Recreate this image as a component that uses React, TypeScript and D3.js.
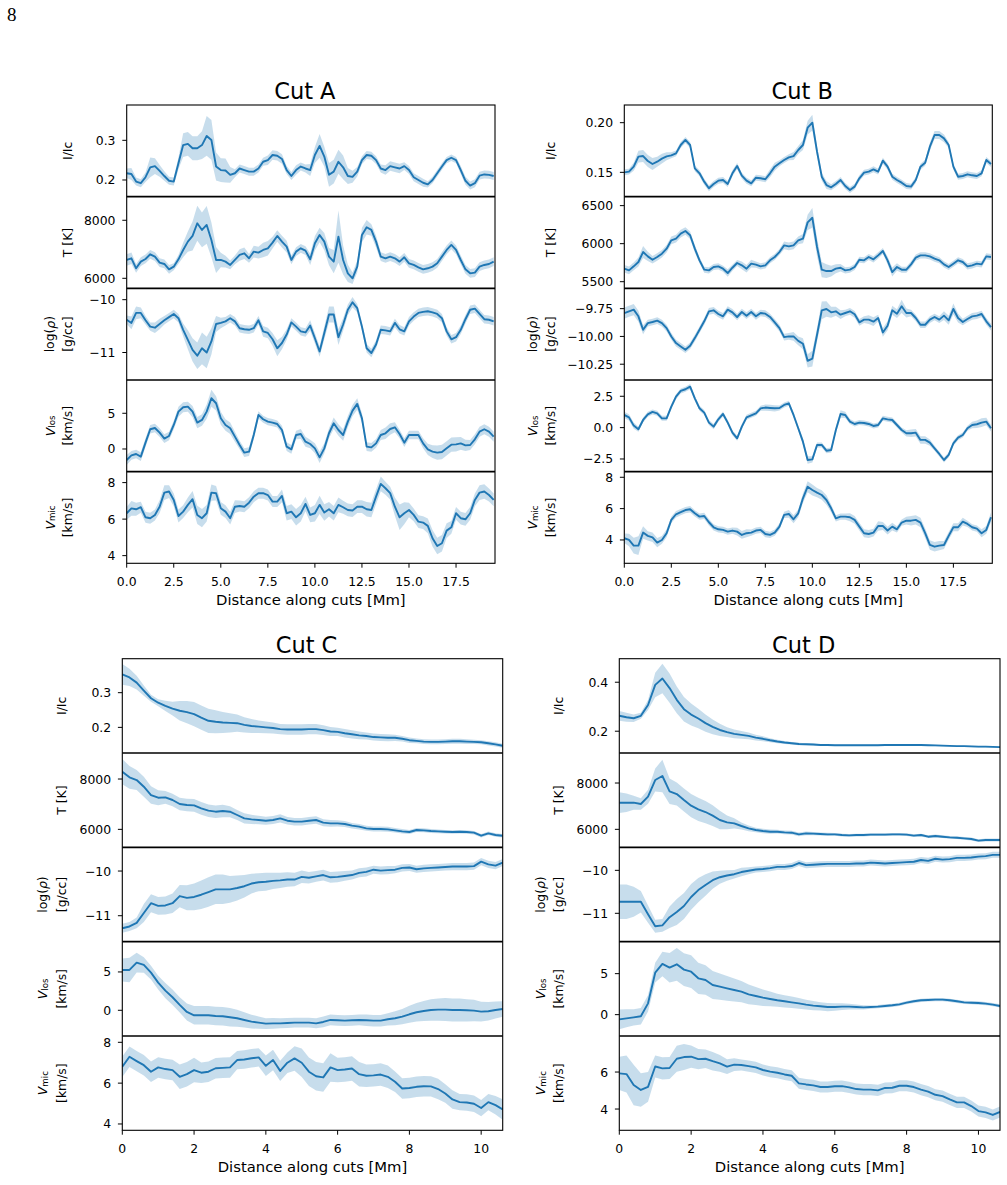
import React from 'react';
import * as d3 from 'd3';

// Sample positions along each cut [Mm]
const distAB = d3.range(79).map((i) => i * 0.25);
const distCD = d3.range(54).map((i) => i * 0.2);

// ---------------- Cut A ----------------
const cutA_ic = [0.217, 0.215, 0.196, 0.192, 0.207, 0.232, 0.235, 0.223, 0.21, 0.198,
  0.196, 0.242, 0.288, 0.291, 0.28, 0.28, 0.288, 0.311, 0.301, 0.234,
  0.225, 0.224, 0.213, 0.217, 0.229, 0.225, 0.221, 0.221, 0.229, 0.246,
  0.25, 0.263, 0.261, 0.253, 0.225, 0.21, 0.225, 0.234, 0.229, 0.225,
  0.263, 0.286, 0.259, 0.213, 0.221, 0.246, 0.232, 0.21, 0.208, 0.221,
  0.25, 0.263, 0.261, 0.25, 0.229, 0.225, 0.235, 0.232, 0.229, 0.235,
  0.225, 0.207, 0.2, 0.193, 0.189, 0.2, 0.217, 0.234, 0.25, 0.256,
  0.25, 0.225, 0.198, 0.186, 0.192, 0.211, 0.214, 0.213, 0.21];
const cutA_icErr = [0.012, 0.015, 0.01, 0.01, 0.012, 0.025, 0.02, 0.015, 0.012, 0.01,
  0.01, 0.015, 0.03, 0.03, 0.03, 0.03, 0.035, 0.05, 0.05, 0.035,
  0.03, 0.03, 0.02, 0.01, 0.01, 0.01, 0.01, 0.01, 0.01, 0.01,
  0.012, 0.012, 0.012, 0.012, 0.01, 0.01, 0.012, 0.01, 0.01, 0.015,
  0.02, 0.03, 0.025, 0.03, 0.03, 0.03, 0.03, 0.02, 0.015, 0.012,
  0.01, 0.01, 0.01, 0.01, 0.01, 0.012, 0.012, 0.012, 0.012, 0.01,
  0.01, 0.01, 0.01, 0.01, 0.008, 0.008, 0.008, 0.008, 0.008, 0.008,
  0.008, 0.01, 0.01, 0.01, 0.01, 0.01, 0.01, 0.01, 0.01];
const cutA_T = [6632, 6690, 6345, 6575, 6667, 6828, 6747, 6540, 6494, 6310,
  6402, 6655, 6977, 7264, 7460, 7897, 7667, 7839, 7322, 6632,
  6632, 6575, 6460, 6632, 6805, 6862, 6690, 6920, 6885, 6977,
  7034, 7230, 7460, 7264, 7092, 6632, 6920, 7034, 6954, 6655,
  7207, 7494, 7264, 6747, 6575, 7437, 6632, 6172, 6000, 6402,
  7494, 7759, 7667, 7264, 6747, 6690, 6747, 6690, 6575, 6724,
  6517, 6460, 6379, 6310, 6345, 6402, 6517, 6747, 6977, 7149,
  6977, 6632, 6310, 6172, 6195, 6402, 6460, 6494, 6575];
const cutA_TErr = [200, 200, 150, 150, 150, 150, 150, 150, 150, 150,
  120, 150, 250, 350, 500, 600, 600, 650, 600, 450,
  250, 200, 150, 150, 200, 200, 150, 200, 200, 250,
  250, 200, 200, 200, 200, 150, 150, 150, 150, 200,
  250, 250, 300, 300, 400, 900, 500, 300, 200, 200,
  250, 250, 200, 200, 150, 150, 150, 150, 150, 150,
  150, 150, 150, 150, 150, 150, 150, 150, 150, 150,
  150, 150, 150, 150, 150, 150, 150, 150, 150];
const cutA_rho = [-10.38, -10.44, -10.25, -10.25, -10.39, -10.51, -10.53, -10.46, -10.39, -10.33,
  -10.27, -10.35, -10.57, -10.76, -10.95, -11.06, -10.92, -11.0, -10.79, -10.46,
  -10.44, -10.41, -10.35, -10.41, -10.54, -10.56, -10.57, -10.54, -10.39, -10.6,
  -10.63, -10.75, -10.92, -10.82, -10.66, -10.43, -10.51, -10.6, -10.62, -10.49,
  -10.73, -10.98, -10.63, -10.28, -10.28, -10.71, -10.47, -10.19, -10.05, -10.16,
  -10.51, -10.92, -11.01, -10.85, -10.57, -10.58, -10.6, -10.44, -10.56, -10.6,
  -10.41, -10.32, -10.25, -10.23, -10.22, -10.24, -10.27, -10.35, -10.6, -10.75,
  -10.71, -10.57, -10.37, -10.19, -10.17, -10.27, -10.37, -10.38, -10.41];
const cutA_rhoErr = [0.08, 0.12, 0.12, 0.1, 0.08, 0.08, 0.1, 0.1, 0.08, 0.08,
  0.08, 0.08, 0.12, 0.18, 0.22, 0.25, 0.3, 0.3, 0.25, 0.15,
  0.1, 0.08, 0.08, 0.08, 0.08, 0.08, 0.08, 0.08, 0.08, 0.1,
  0.1, 0.12, 0.15, 0.12, 0.1, 0.08, 0.08, 0.08, 0.08, 0.1,
  0.1, 0.1, 0.12, 0.15, 0.15, 0.15, 0.12, 0.1, 0.1, 0.08,
  0.08, 0.08, 0.08, 0.08, 0.08, 0.08, 0.08, 0.08, 0.08, 0.08,
  0.08, 0.08, 0.08, 0.08, 0.08, 0.08, 0.08, 0.08, 0.08, 0.08,
  0.08, 0.08, 0.08, 0.08, 0.08, 0.08, 0.08, 0.08, 0.08];
const cutA_vlos = [-1.54, -0.89, -0.7, -1.07, 0.89, 2.76, 2.94, 2.29, 1.45, 1.82,
  3.36, 5.23, 5.84, 5.93, 5.23, 3.69, 4.07, 5.23, 7.1, 6.4,
  4.3, 3.36, 2.9, 1.73, 0.56, -0.51, -0.37, 1.96, 4.77, 4.16,
  3.83, 3.69, 3.5, 2.66, 0.33, -0.05, 1.96, 2.1, 1.03, 0.7,
  0.09, -1.17, 0.09, 2.2, 3.6, 2.66, 1.96, 3.83, 5.37, 6.31,
  4.3, 0.33, 0.23, 0.79, 1.96, 2.2, 2.8, 3.04, 2.1, 0.89,
  1.96, 1.96, 1.96, 0.79, -0.05, -0.37, -0.51, -0.42, 0.09, 0.61,
  0.65, 0.79, 0.51, 0.56, 1.36, 2.43, 2.76, 2.43, 1.73];
const cutA_vlosErr = [0.7, 0.6, 0.6, 0.6, 0.6, 0.6, 0.6, 0.6, 0.6, 0.6,
  0.6, 0.7, 0.7, 0.7, 0.8, 0.8, 0.8, 1.0, 1.2, 1.0,
  0.9, 0.8, 0.8, 0.7, 0.6, 0.6, 0.6, 0.6, 0.5, 0.5,
  0.5, 0.5, 0.5, 0.6, 0.6, 0.6, 0.6, 0.7, 0.7, 0.6,
  0.7, 0.8, 0.7, 0.7, 0.8, 0.8, 0.8, 0.8, 0.8, 0.8,
  0.7, 0.6, 0.6, 0.6, 0.7, 0.8, 0.8, 0.7, 0.6, 0.6,
  0.6, 0.6, 0.6, 0.7, 0.8, 0.9, 1.0, 1.0, 1.0, 1.0,
  1.0, 0.9, 0.8, 0.7, 0.7, 0.7, 0.7, 0.7, 0.7];
const cutA_vmic = [6.32, 6.59, 6.54, 6.65, 6.1, 6.05, 6.23, 6.68, 7.45, 7.51,
  7.05, 6.17, 6.41, 6.78, 7.09, 6.23, 6.05, 6.32, 7.45, 7.42,
  6.59, 6.41, 6.05, 6.68, 6.72, 6.68, 6.9, 7.23, 7.42, 7.42,
  7.32, 6.96, 6.96, 7.27, 6.32, 6.41, 6.1, 6.32, 6.83, 6.23,
  6.32, 6.78, 6.36, 6.54, 6.32, 6.78, 6.65, 6.5, 6.47, 6.68,
  6.68, 6.54, 6.5, 7.23, 7.93, 7.69, 7.42, 6.68, 6.1, 6.32,
  6.5, 6.23, 5.86, 5.81, 5.63, 4.95, 4.53, 4.68, 5.37, 5.55,
  6.32, 6.05, 5.99, 6.32, 7.05, 7.45, 7.51, 7.32, 7.05];
const cutA_vmicErr = [0.35, 0.4, 0.35, 0.3, 0.3, 0.3, 0.3, 0.35, 0.4, 0.35,
  0.35, 0.35, 0.35, 0.4, 0.45, 0.5, 0.5, 0.45, 0.45, 0.4,
  0.35, 0.35, 0.35, 0.35, 0.3, 0.3, 0.3, 0.3, 0.3, 0.3,
  0.3, 0.3, 0.3, 0.35, 0.4, 0.4, 0.45, 0.45, 0.4, 0.4,
  0.45, 0.5, 0.45, 0.4, 0.4, 0.4, 0.35, 0.35, 0.35, 0.35,
  0.35, 0.4, 0.4, 0.4, 0.4, 0.35, 0.35, 0.5, 0.7, 0.6,
  0.4, 0.35, 0.35, 0.35, 0.4, 0.45, 0.45, 0.45, 0.4, 0.35,
  0.35, 0.35, 0.35, 0.35, 0.35, 0.4, 0.4, 0.35, 0.35];

// ---------------- Cut B ----------------
const cutB_ic = [0.15, 0.1507, 0.1557, 0.1658, 0.1664, 0.1614, 0.1584, 0.1607, 0.1638, 0.1661,
  0.1671, 0.1691, 0.1775, 0.1826, 0.1775, 0.154, 0.149, 0.1406, 0.1339, 0.1383,
  0.1416, 0.1423, 0.1383, 0.149, 0.1564, 0.1466, 0.1416, 0.1389, 0.1446, 0.144,
  0.143, 0.149, 0.1557, 0.1591, 0.1624, 0.1651, 0.1664, 0.1725, 0.1775, 0.195,
  0.2, 0.1708, 0.1456, 0.1372, 0.1349, 0.1383, 0.1423, 0.1362, 0.1322, 0.1356,
  0.144, 0.1497, 0.1507, 0.153, 0.1507, 0.1617, 0.1557, 0.1456, 0.1423, 0.1396,
  0.1362, 0.1356, 0.1423, 0.1557, 0.1597, 0.1758, 0.1876, 0.1876, 0.1842, 0.1775,
  0.1557, 0.1456, 0.1463, 0.148, 0.147, 0.1463, 0.149, 0.1624, 0.1584];
const cutB_icErr = [0.003, 0.003, 0.004, 0.006, 0.006, 0.006, 0.006, 0.005, 0.005, 0.004,
  0.003, 0.003, 0.003, 0.003, 0.003, 0.003, 0.003, 0.003, 0.003, 0.003,
  0.003, 0.003, 0.003, 0.003, 0.003, 0.003, 0.003, 0.003, 0.003, 0.003,
  0.003, 0.004, 0.004, 0.003, 0.003, 0.003, 0.004, 0.004, 0.005, 0.007,
  0.008, 0.005, 0.004, 0.004, 0.003, 0.003, 0.003, 0.003, 0.003, 0.003,
  0.003, 0.003, 0.003, 0.003, 0.003, 0.003, 0.003, 0.003, 0.003, 0.003,
  0.003, 0.003, 0.003, 0.003, 0.003, 0.004, 0.004, 0.004, 0.004, 0.003,
  0.003, 0.003, 0.003, 0.003, 0.003, 0.003, 0.003, 0.003, 0.003];
const cutB_T = [5671, 5649, 5702, 5759, 5890, 5833, 5789, 5825, 5868, 5934,
  6044, 6066, 6132, 6167, 6110, 5934, 5781, 5658, 5649, 5693,
  5702, 5671, 5614, 5684, 5746, 5715, 5671, 5737, 5724, 5702,
  5715, 5781, 5825, 5890, 5978, 5965, 5978, 6044, 6066, 6280,
  6340, 5956, 5658, 5640, 5640, 5671, 5684, 5649, 5658, 5693,
  5789, 5781, 5825, 5794, 5846, 5904, 5781, 5627, 5693, 5658,
  5658, 5728, 5816, 5846, 5846, 5833, 5803, 5781, 5728, 5693,
  5737, 5781, 5759, 5702, 5715, 5737, 5728, 5833, 5825];
const cutB_TErr = [50, 50, 50, 60, 80, 60, 50, 50, 50, 50,
  50, 50, 50, 50, 50, 50, 40, 40, 40, 40,
  40, 40, 50, 40, 40, 50, 50, 50, 40, 40,
  40, 40, 40, 40, 50, 50, 50, 50, 60, 100,
  130, 120, 100, 90, 70, 60, 50, 40, 40, 40,
  40, 40, 40, 40, 40, 40, 50, 60, 50, 40,
  40, 40, 40, 40, 40, 40, 40, 40, 40, 40,
  40, 40, 40, 40, 40, 40, 40, 40, 40];
const cutB_rho = [-9.79, -9.774, -9.759, -9.819, -9.94, -9.88, -9.87, -9.858, -9.88, -9.925,
  -10.0, -10.06, -10.09, -10.12, -10.084, -10.015, -9.94, -9.864, -9.774, -9.765,
  -9.798, -9.819, -9.759, -9.783, -9.825, -9.78, -9.813, -9.78, -9.819, -9.789,
  -9.795, -9.825, -9.873, -9.925, -10.006, -10.0, -10.0, -10.04, -10.066, -10.22,
  -10.2, -9.985, -9.765, -9.753, -9.783, -9.774, -9.804, -9.789, -9.774, -9.801,
  -9.873, -9.849, -9.849, -9.867, -9.834, -9.964, -9.904, -9.765, -9.795, -9.729,
  -9.789, -9.789, -9.834, -9.895, -9.895, -9.849, -9.825, -9.849, -9.813, -9.855,
  -9.753, -9.834, -9.87, -9.843, -9.819, -9.813, -9.798, -9.864, -9.916];
const cutB_rhoErr = [0.05, 0.05, 0.05, 0.05, 0.04, 0.03, 0.03, 0.03, 0.03, 0.03,
  0.03, 0.03, 0.03, 0.03, 0.03, 0.03, 0.03, 0.03, 0.03, 0.03,
  0.03, 0.03, 0.03, 0.03, 0.03, 0.03, 0.03, 0.03, 0.03, 0.03,
  0.03, 0.03, 0.03, 0.03, 0.03, 0.03, 0.04, 0.04, 0.05, 0.06,
  0.07, 0.06, 0.08, 0.07, 0.05, 0.04, 0.04, 0.03, 0.03, 0.03,
  0.03, 0.03, 0.04, 0.04, 0.03, 0.04, 0.04, 0.04, 0.04, 0.06,
  0.04, 0.03, 0.03, 0.03, 0.03, 0.03, 0.03, 0.03, 0.04, 0.04,
  0.05, 0.04, 0.03, 0.03, 0.03, 0.03, 0.03, 0.03, 0.03];
const cutB_vlos = [1.01, 0.82, 0.16, -0.13, 0.61, 1.06, 1.25, 1.14, 0.74, 0.74,
  1.68, 2.47, 2.93, 3.06, 3.27, 2.34, 1.54, 1.2, 0.4, 0.08,
  0.66, 1.09, 0.4, -0.4, -0.85, 0.08, 0.82, 0.98, 1.14, 1.54,
  1.6, 1.57, 1.54, 1.57, 1.81, 1.94, 1.01, -0.05, -1.12, -2.58,
  -2.53, -1.38, -1.38, -1.84, -1.78, -0.19, 1.09, 1.01, 0.48, 0.29,
  0.4, 0.37, 0.29, 0.13, 0.21, 0.74, 0.66, 0.61, 0.21, -0.19,
  -0.45, -0.45, -0.4, -0.98, -0.98, -1.2, -1.65, -2.1, -2.58, -2.18,
  -1.25, -0.8, -0.59, -0.05, 0.21, 0.27, 0.4, 0.48, -0.05];
const cutB_vlosErr = [0.25, 0.25, 0.25, 0.2, 0.2, 0.2, 0.2, 0.2, 0.2, 0.2,
  0.2, 0.2, 0.2, 0.2, 0.2, 0.2, 0.2, 0.2, 0.2, 0.2,
  0.2, 0.2, 0.2, 0.2, 0.2, 0.2, 0.2, 0.2, 0.2, 0.2,
  0.25, 0.25, 0.25, 0.2, 0.2, 0.2, 0.2, 0.2, 0.25, 0.3,
  0.25, 0.2, 0.2, 0.2, 0.2, 0.25, 0.3, 0.25, 0.2, 0.2,
  0.2, 0.2, 0.2, 0.2, 0.2, 0.2, 0.2, 0.2, 0.2, 0.2,
  0.25, 0.3, 0.3, 0.3, 0.3, 0.25, 0.2, 0.2, 0.2, 0.2,
  0.2, 0.2, 0.2, 0.2, 0.25, 0.3, 0.35, 0.3, 0.25];
const cutB_vmic = [4.11, 4.0, 3.64, 3.64, 4.47, 4.26, 4.17, 3.83, 4.0, 4.43,
  5.28, 5.64, 5.77, 5.91, 5.96, 5.7, 5.49, 5.53, 5.13, 4.81,
  4.68, 4.64, 4.53, 4.6, 4.53, 4.32, 4.43, 4.47, 4.6, 4.64,
  4.38, 4.32, 4.47, 4.85, 5.6, 5.66, 5.32, 5.7, 6.66, 7.4,
  7.19, 7.02, 6.87, 6.55, 6.02, 5.38, 5.49, 5.49, 5.45, 5.28,
  4.85, 4.43, 4.38, 4.47, 4.89, 4.89, 4.6, 4.85, 4.68, 5.11,
  5.23, 5.23, 5.28, 5.11, 4.43, 3.68, 3.57, 3.64, 3.68, 4.26,
  4.81, 4.81, 5.17, 5.02, 4.81, 4.72, 4.43, 4.64, 5.45];
const cutB_vmicErr = [0.3, 0.4, 0.5, 0.6, 0.4, 0.3, 0.3, 0.3, 0.25, 0.25,
  0.2, 0.2, 0.2, 0.2, 0.2, 0.2, 0.2, 0.2, 0.2, 0.2,
  0.2, 0.2, 0.2, 0.2, 0.25, 0.25, 0.25, 0.2, 0.2, 0.2,
  0.2, 0.2, 0.2, 0.2, 0.2, 0.25, 0.25, 0.25, 0.3, 0.35,
  0.35, 0.3, 0.3, 0.3, 0.25, 0.2, 0.2, 0.2, 0.25, 0.25,
  0.25, 0.25, 0.25, 0.25, 0.3, 0.25, 0.25, 0.25, 0.2, 0.2,
  0.25, 0.3, 0.3, 0.3, 0.3, 0.3, 0.3, 0.3, 0.25, 0.25,
  0.25, 0.25, 0.25, 0.2, 0.2, 0.2, 0.25, 0.25, 0.3];

// ---------------- Cut C ----------------
const cutC_ic = [0.353, 0.344, 0.329, 0.306, 0.284, 0.271, 0.262, 0.254, 0.248, 0.244,
  0.238, 0.228, 0.219, 0.216, 0.214, 0.213, 0.212, 0.207, 0.204, 0.202,
  0.2, 0.198, 0.195, 0.194, 0.194, 0.194, 0.195, 0.195, 0.192, 0.188,
  0.187, 0.183, 0.18, 0.177, 0.175, 0.172, 0.171, 0.17, 0.17, 0.167,
  0.163, 0.161, 0.159, 0.158, 0.158, 0.159, 0.16, 0.16, 0.159, 0.158,
  0.157, 0.154, 0.151, 0.147];
const cutC_icErr = [0.03, 0.025, 0.02, 0.015, 0.01, 0.01, 0.015, 0.02, 0.028, 0.032,
  0.035, 0.035, 0.035, 0.033, 0.03, 0.028, 0.025, 0.022, 0.02, 0.018,
  0.017, 0.016, 0.015, 0.015, 0.015, 0.015, 0.015, 0.015, 0.014, 0.013,
  0.012, 0.012, 0.012, 0.011, 0.01, 0.01, 0.01, 0.01, 0.009, 0.008,
  0.008, 0.007, 0.007, 0.007, 0.007, 0.007, 0.007, 0.007, 0.007, 0.006,
  0.006, 0.006, 0.006, 0.006];
const cutC_T = [8291, 8066, 7960, 7695, 7364, 7258, 7272, 7166, 7007, 6967,
  6954, 6834, 6742, 6702, 6728, 6702, 6570, 6437, 6397, 6371,
  6344, 6371, 6437, 6344, 6305, 6305, 6344, 6371, 6265, 6238,
  6238, 6212, 6146, 6106, 6040, 6013, 6013, 6000, 5960, 5921,
  5894, 5974, 5960, 5934, 5921, 5907, 5894, 5907, 5894, 5868,
  5748, 5841, 5775, 5748];
const cutC_TErr = [500, 450, 400, 400, 350, 300, 250, 250, 250, 250,
  250, 250, 250, 250, 250, 220, 200, 200, 180, 170,
  160, 160, 160, 150, 150, 150, 150, 150, 140, 130,
  120, 120, 110, 110, 100, 100, 100, 100, 90, 90,
  80, 80, 80, 75, 75, 70, 70, 70, 70, 70,
  70, 70, 70, 70];
const cutC_rho = [-11.28, -11.24, -11.16, -10.94, -10.72, -10.78, -10.77, -10.72, -10.56, -10.6,
  -10.58, -10.53, -10.47, -10.41, -10.41, -10.41, -10.38, -10.34, -10.28, -10.25,
  -10.24, -10.22, -10.21, -10.19, -10.19, -10.13, -10.15, -10.12, -10.09, -10.14,
  -10.13, -10.11, -10.09, -10.04, -10.02, -9.97, -9.99, -9.98, -9.97, -9.93,
  -9.92, -9.96, -9.94, -9.93, -9.92, -9.91, -9.9, -9.9, -9.9, -9.89,
  -9.79, -9.85, -9.88, -9.81];
const cutC_rhoErr = [0.1, 0.1, 0.12, 0.2, 0.2, 0.2, 0.2, 0.22, 0.25, 0.28,
  0.3, 0.32, 0.33, 0.33, 0.33, 0.3, 0.28, 0.25, 0.22, 0.2,
  0.2, 0.18, 0.17, 0.16, 0.15, 0.14, 0.13, 0.12, 0.12, 0.12,
  0.12, 0.11, 0.1, 0.1, 0.1, 0.09, 0.09, 0.09, 0.08, 0.08,
  0.08, 0.08, 0.08, 0.08, 0.08, 0.08, 0.08, 0.08, 0.08, 0.08,
  0.08, 0.08, 0.08, 0.08];
const cutC_vlos = [5.26, 5.26, 6.22, 5.91, 4.91, 3.61, 2.57, 1.7, 0.7, -0.22,
  -0.65, -0.65, -0.65, -0.74, -0.78, -0.91, -1.04, -1.26, -1.48, -1.61,
  -1.74, -1.7, -1.7, -1.65, -1.61, -1.61, -1.61, -1.7, -1.52, -1.26,
  -1.3, -1.35, -1.3, -1.26, -1.3, -1.35, -1.35, -1.17, -1.04, -0.83,
  -0.52, -0.26, -0.09, 0.04, 0.09, 0.09, 0.04, 0.04, 0, -0.04,
  -0.17, -0.13, 0.04, 0.17];
const cutC_vlosErr = [1.5, 1.6, 1.3, 1.0, 0.9, 0.9, 1.0, 1.0, 1.0, 1.1,
  1.2, 1.2, 1.2, 1.2, 1.2, 1.2, 1.1, 1.0, 0.9, 0.8,
  0.7, 0.7, 0.65, 0.65, 0.65, 0.65, 0.65, 0.65, 0.7, 0.7,
  0.7, 0.7, 0.7, 0.7, 0.75, 0.75, 0.75, 0.8, 0.9, 1.0,
  1.1, 1.2, 1.3, 1.4, 1.45, 1.5, 1.5, 1.5, 1.45, 1.4,
  1.3, 1.2, 1.1, 1.0];
const cutC_vmic = [6.8, 7.29, 7.08, 6.88, 6.56, 6.77, 6.69, 6.64, 6.31, 6.44,
  6.64, 6.51, 6.56, 6.73, 6.75, 6.77, 7.13, 7.16, 7.22, 7.26,
  6.85, 7.13, 6.6, 7.0, 7.21, 7.0, 6.56, 6.34, 6.28, 6.77,
  6.64, 6.67, 6.72, 6.44, 6.36, 6.38, 6.42, 6.31, 6.07, 5.74,
  5.76, 5.82, 5.85, 5.84, 5.71, 5.49, 5.2, 5.07, 5.05, 4.99,
  4.78, 5.07, 4.92, 4.71];
const cutC_vmicErr = [0.5, 0.5, 0.5, 0.5, 0.5, 0.5, 0.5, 0.5, 0.6, 0.6,
  0.6, 0.5, 0.5, 0.5, 0.5, 0.5, 0.45, 0.45, 0.45, 0.45,
  0.5, 0.5, 0.5, 0.5, 0.6, 0.7, 0.7, 0.7, 0.7, 0.7,
  0.6, 0.6, 0.6, 0.6, 0.55, 0.55, 0.55, 0.55, 0.5, 0.5,
  0.5, 0.5, 0.5, 0.5, 0.5, 0.45, 0.45, 0.4, 0.4, 0.4,
  0.4, 0.4, 0.45, 0.5];

// ---------------- Cut D ----------------
const cutD_ic = [0.263, 0.257, 0.253, 0.263, 0.307, 0.389, 0.415, 0.376, 0.328, 0.29,
  0.268, 0.252, 0.233, 0.218, 0.205, 0.196, 0.189, 0.185, 0.181, 0.174,
  0.169, 0.163, 0.158, 0.154, 0.151, 0.148, 0.147, 0.146, 0.144, 0.144,
  0.143, 0.143, 0.143, 0.143, 0.143, 0.143, 0.143, 0.144, 0.144, 0.144,
  0.144, 0.144, 0.144, 0.143, 0.142, 0.141, 0.14, 0.139, 0.139, 0.138,
  0.137, 0.137, 0.136, 0.135];
const cutD_icErr = [0.02, 0.018, 0.015, 0.012, 0.02, 0.05, 0.06, 0.06, 0.055, 0.05,
  0.045, 0.04, 0.035, 0.03, 0.025, 0.02, 0.018, 0.016, 0.014, 0.012,
  0.01, 0.008, 0.007, 0.006, 0.005, 0.005, 0.004, 0.004, 0.003, 0.003,
  0.003, 0.003, 0.003, 0.003, 0.003, 0.003, 0.003, 0.003, 0.003, 0.003,
  0.003, 0.003, 0.003, 0.003, 0.003, 0.003, 0.003, 0.003, 0.003, 0.003,
  0.003, 0.003, 0.003, 0.003];
const cutD_T = [7151, 7151, 7151, 7094, 7410, 8130, 8302, 7640, 7525, 7266,
  7022, 6863, 6748, 6590, 6403, 6302, 6259, 6144, 6043, 5971,
  5928, 5899, 5899, 5870, 5856, 5784, 5827, 5813, 5799, 5784,
  5784, 5755, 5741, 5755, 5755, 5770, 5770, 5770, 5784, 5784,
  5770, 5727, 5755, 5683, 5712, 5683, 5655, 5640, 5611, 5583,
  5511, 5540, 5540, 5540];
const cutD_TErr = [450, 400, 300, 250, 300, 500, 700, 550, 500, 500,
  500, 500, 480, 450, 400, 300, 220, 150, 120, 100,
  100, 90, 80, 80, 80, 80, 80, 70, 70, 70,
  60, 60, 60, 60, 60, 60, 60, 60, 60, 60,
  60, 60, 60, 60, 60, 60, 60, 60, 60, 60,
  60, 60, 60, 60];
const cutD_rho = [-10.73, -10.73, -10.73, -10.73, -11.02, -11.3, -11.28, -11.09, -10.97, -10.83,
  -10.62, -10.46, -10.34, -10.23, -10.16, -10.12, -10.09, -10.04, -10.01, -9.98,
  -9.97, -9.95, -9.92, -9.92, -9.9, -9.83, -9.88, -9.87, -9.86, -9.85,
  -9.85, -9.85, -9.85, -9.84, -9.84, -9.82, -9.83, -9.84, -9.83, -9.82,
  -9.81, -9.8, -9.76, -9.78, -9.73, -9.75, -9.74, -9.71, -9.71, -9.7,
  -9.68, -9.67, -9.64, -9.64];
const cutD_rhoErr = [0.4, 0.4, 0.35, 0.25, 0.2, 0.15, 0.15, 0.25, 0.3, 0.3,
  0.3, 0.28, 0.25, 0.2, 0.15, 0.12, 0.1, 0.1, 0.08, 0.07,
  0.07, 0.07, 0.07, 0.07, 0.07, 0.07, 0.07, 0.07, 0.07, 0.07,
  0.07, 0.07, 0.07, 0.07, 0.07, 0.07, 0.07, 0.07, 0.07, 0.07,
  0.07, 0.07, 0.07, 0.07, 0.07, 0.07, 0.07, 0.07, 0.07, 0.07,
  0.07, 0.07, 0.07, 0.07];
const cutD_vlos = [-0.57, -0.45, -0.33, -0.2, 1.38, 5.12, 6.18, 5.73, 6.14, 5.49,
  5.24, 4.43, 4.23, 3.62, 3.41, 3.21, 3.01, 2.8, 2.48, 2.28,
  2.07, 1.91, 1.75, 1.63, 1.5, 1.38, 1.22, 1.1, 1.02, 0.93,
  0.93, 0.98, 0.98, 0.93, 0.89, 0.93, 0.98, 1.06, 1.14, 1.26,
  1.46, 1.63, 1.75, 1.79, 1.83, 1.83, 1.75, 1.63, 1.5, 1.46,
  1.42, 1.34, 1.22, 1.06];
const cutD_vlosErr = [1.2, 1.1, 1.0, 1.0, 1.0, 1.2, 1.5, 1.8, 2.0, 2.0,
  2.0, 1.9, 1.8, 1.7, 1.6, 1.5, 1.4, 1.3, 1.2, 1.1,
  1.0, 0.9, 0.8, 0.75, 0.7, 0.65, 0.6, 0.55, 0.5, 0.5,
  0.45, 0.4, 0.35, 0.3, 0.25, 0.2, 0.2, 0.2, 0.2, 0.2,
  0.2, 0.2, 0.2, 0.2, 0.2, 0.2, 0.2, 0.2, 0.2, 0.2,
  0.2, 0.2, 0.2, 0.2];
const cutD_vmic = [5.93, 5.89, 5.3, 5.03, 5.2, 6.3, 6.2, 6.22, 6.72, 6.81,
  6.83, 6.7, 6.72, 6.59, 6.47, 6.29, 6.4, 6.38, 6.32, 6.25,
  6.11, 6.02, 5.96, 5.87, 5.8, 5.39, 5.33, 5.28, 5.19, 5.19,
  5.23, 5.24, 5.17, 5.08, 5.05, 5.05, 5.01, 5.14, 5.15, 5.26,
  5.26, 5.19, 5.05, 4.94, 4.77, 4.7, 4.52, 4.36, 4.36, 4.16,
  3.89, 3.82, 3.68, 3.84];
const cutD_vmicErr = [0.9, 1.0, 1.1, 0.9, 0.8, 0.6, 0.6, 0.6, 0.7, 0.7,
  0.6, 0.55, 0.5, 0.5, 0.45, 0.4, 0.35, 0.3, 0.3, 0.3,
  0.3, 0.3, 0.3, 0.3, 0.3, 0.3, 0.3, 0.3, 0.3, 0.3,
  0.3, 0.3, 0.3, 0.3, 0.3, 0.3, 0.3, 0.3, 0.3, 0.3,
  0.3, 0.3, 0.3, 0.3, 0.3, 0.3, 0.3, 0.3, 0.3, 0.3,
  0.3, 0.3, 0.3, 0.3];

// Axis tick values
const xTicksAB = [0, 2.5, 5, 7.5, 10, 12.5, 15, 17.5];
const xTicksCD = [0, 2, 4, 6, 8, 10];

const BLUE = '#1f77b4';
const FONT = '"DejaVu Sans", Verdana, sans-serif';
const TICK_FS = 12.4;

type Panel = {
  title: string;
  dist: number[];
  xMax: number;
  xTicks: number[];
  xFmt: string;
  left: number;
  right: number;
  top: number;
  bottom: number;
  labOff: [number, number];
  values: number[][];
  errs: number[][];
  domains: [number, number][];
  yTicks: number[][];
  yFmt: string[];
};

const panels: Panel[] = [
  {
    title: 'Cut A', dist: distAB, xMax: 19.57, xTicks: xTicksAB, xFmt: '.1f',
    left: 126.7, right: 495, top: 105, bottom: 563.3, labOff: [59, 77],
    values: [cutA_ic, cutA_T, cutA_rho, cutA_vlos, cutA_vmic],
    errs: [cutA_icErr, cutA_TErr, cutA_rhoErr, cutA_vlosErr, cutA_vmicErr],
    domains: [[0.158, 0.389], [5655, 8814], [-11.52, -9.785], [-3.17, 9.66], [3.58, 8.6]],
    yTicks: [[0.2, 0.3], [6000, 8000], [-11, -10], [0, 5], [4, 6, 8]],
    yFmt: ['.1f', 'd', 'd', 'd', 'd'],
  },
  {
    title: 'Cut B', dist: distAB, xMax: 19.57, xTicks: xTicksAB, xFmt: '.1f',
    left: 624.3, right: 992.3, top: 105, bottom: 563.3, labOff: [74, 92],
    values: [cutB_ic, cutB_T, cutB_rho, cutB_vlos, cutB_vmic],
    errs: [cutB_icErr, cutB_TErr, cutB_rhoErr, cutB_vlosErr, cutB_vmicErr],
    domains: [[0.1255, 0.2178], [5413, 6618], [-10.392, -9.567], [-3.51, 3.8], [2.51, 8.36]],
    yTicks: [[0.15, 0.2], [5500, 6000, 6500], [-10.25, -10, -9.75], [-2.5, 0, 2.5], [4, 6, 8]],
    yFmt: ['.2f', 'd', '.2f', '.1f', 'd'],
  },
  {
    title: 'Cut C', dist: distCD, xMax: 10.6, xTicks: xTicksCD, xFmt: 'd',
    left: 122.3, right: 502.7, top: 658.7, bottom: 1130.3, labOff: [61, 80],
    values: [cutC_ic, cutC_T, cutC_rho, cutC_vlos, cutC_vmic],
    errs: [cutC_icErr, cutC_TErr, cutC_rhoErr, cutC_vlosErr, cutC_vmicErr],
    domains: [[0.126, 0.398], [5285, 9033], [-11.58, -9.47], [-3.35, 8.95], [3.69, 8.31]],
    yTicks: [[0.2, 0.3], [6000, 8000], [-11, -10], [0, 5], [4, 6, 8]],
    yFmt: ['.1f', 'd', 'd', 'd', 'd'],
  },
  {
    title: 'Cut D', dist: distCD, xMax: 10.6, xTicks: xTicksCD, xFmt: 'd',
    left: 619.3, right: 1000, top: 658.7, bottom: 1130.3, labOff: [61, 79],
    values: [cutD_ic, cutD_T, cutD_rho, cutD_vlos, cutD_vmic],
    errs: [cutD_icErr, cutD_TErr, cutD_rhoErr, cutD_vlosErr, cutD_vmicErr],
    domains: [[0.111, 0.496], [5223, 9295], [-11.66, -9.465], [-2.6, 8.9], [2.85, 7.95]],
    yTicks: [[0.2, 0.4], [6000, 8000], [-11, -10], [0, 5], [4, 6]],
    yFmt: ['.1f', 'd', 'd', 'd', 'd'],
  },
];

function YLabel({ row, x1, x2, yc }: { row: number; x1: number; x2: number; yc: number }) {
  const common = {
    textAnchor: 'middle' as const,
    dominantBaseline: 'central' as const,
    fontFamily: FONT,
    fontSize: TICK_FS,
    fill: '#000',
  };
  const rot = (x: number) => `translate(${x},${yc}) rotate(-90)`;
  if (row === 0) return <text transform={rot(x1)} {...common}>I/Ic</text>;
  if (row === 1) return <text transform={rot(x1)} {...common}>T [K]</text>;
  if (row === 2)
    return (
      <g>
        <text transform={rot(x2)} {...common}>
          log(<tspan fontStyle="italic">ρ</tspan>)
        </text>
        <text transform={rot(x1)} {...common}>[g/cc]</text>
      </g>
    );
  const sub = row === 3 ? 'los' : 'mic';
  return (
    <g>
      <text transform={rot(x2)} {...common}>
        <tspan fontStyle="italic">V</tspan>
        <tspan fontSize={8.7} dy={2.6}>{sub}</tspan>
      </text>
      <text transform={rot(x1)} {...common}>[km/s]</text>
    </g>
  );
}

function CutPanel({ p, pi }: { p: Panel; pi: number }) {
  const x = d3.scaleLinear().domain([0, p.xMax]).range([p.left, p.right]);
  const rowH = (p.bottom - p.top) / 5;
  const w = p.right - p.left;
  const xf = d3.format(p.xFmt);
  return (
    <g>
      <text
        x={(p.left + p.right) / 2 - 6}
        y={p.top - 6}
        textAnchor="middle"
        fontFamily={FONT}
        fontSize={22.5}
        fill="#000"
      >
        {p.title}
      </text>
      {p.values.map((vals, i) => {
        const y0 = p.top + i * rowH;
        const y1 = y0 + rowH;
        const ys = d3.scaleLinear().domain(p.domains[i]).range([y1, y0]);
        const err = p.errs[i];
        const area = d3
          .area<number>()
          .x((_, j) => x(p.dist[j]))
          .y0((v, j) => ys(v - err[j]))
          .y1((v, j) => ys(v + err[j]));
        const line = d3
          .line<number>()
          .x((_, j) => x(p.dist[j]))
          .y((v) => ys(v));
        const cid = `clip-${pi}-${i}`;
        const fmt = d3.format(p.yFmt[i]);
        return (
          <g key={i}>
            <clipPath id={cid}>
              <rect x={p.left} y={y0} width={w} height={rowH} />
            </clipPath>
            <g clipPath={`url(#${cid})`}>
              <path d={area(vals) || ''} fill={BLUE} fillOpacity={0.25} stroke="none" />
              <path
                d={line(vals) || ''}
                fill="none"
                stroke={BLUE}
                strokeWidth={1.9}
                strokeLinejoin="round"
              />
            </g>
            {p.yTicks[i].map((t) => (
              <g key={t}>
                <line x1={p.left - 4.4} x2={p.left} y1={ys(t)} y2={ys(t)} stroke="#000" strokeWidth={1} />
                <text
                  x={p.left - 11.2}
                  y={ys(t)}
                  textAnchor="end"
                  dominantBaseline="central"
                  fontFamily={FONT}
                  fontSize={TICK_FS}
                  fill="#000"
                >
                  {fmt(t)}
                </text>
              </g>
            ))}
            <YLabel row={i} x1={p.left - p.labOff[0]} x2={p.left - p.labOff[1]} yc={(y0 + y1) / 2} />
          </g>
        );
      })}
      {/* frames: outer box plus the shared edges between stacked rows */}
      <rect x={p.left} y={p.top} width={w} height={p.bottom - p.top} fill="none" stroke="#000" strokeWidth={1.1} />
      {[1, 2, 3, 4].map((k) => (
        <line
          key={k}
          x1={p.left}
          x2={p.right}
          y1={p.top + k * rowH}
          y2={p.top + k * rowH}
          stroke="#000"
          strokeWidth={1.7}
        />
      ))}
      {p.xTicks.map((t) => (
        <g key={t}>
          <line x1={x(t)} x2={x(t)} y1={p.bottom} y2={p.bottom + 4.4} stroke="#000" strokeWidth={1} />
          <text
            x={x(t)}
            y={p.bottom + 22.3}
            textAnchor="middle"
            fontFamily={FONT}
            fontSize={TICK_FS}
            fill="#000"
          >
            {xf(t)}
          </text>
        </g>
      ))}
      <text
        x={(p.left + p.right) / 2}
        y={p.bottom + 42}
        textAnchor="middle"
        fontFamily={FONT}
        fontSize={14.8}
        fill="#000"
      >
        Distance along cuts [Mm]
      </text>
    </g>
  );
}

export default function App() {
  return (
    <svg
      width={1007}
      height={1185}
      viewBox="0 0 1007 1185"
      style={{ position: 'absolute', left: 0, top: 0, background: '#fff' }}
    >
      <rect width={1007} height={1185} fill="#fff" />
      <text x={7} y={21} fontFamily='"Liberation Serif", "DejaVu Serif", serif' fontSize={19} fill="#000">
        8
      </text>
      {panels.map((p, i) => (
        <CutPanel key={p.title} p={p} pi={i} />
      ))}
    </svg>
  );
}
